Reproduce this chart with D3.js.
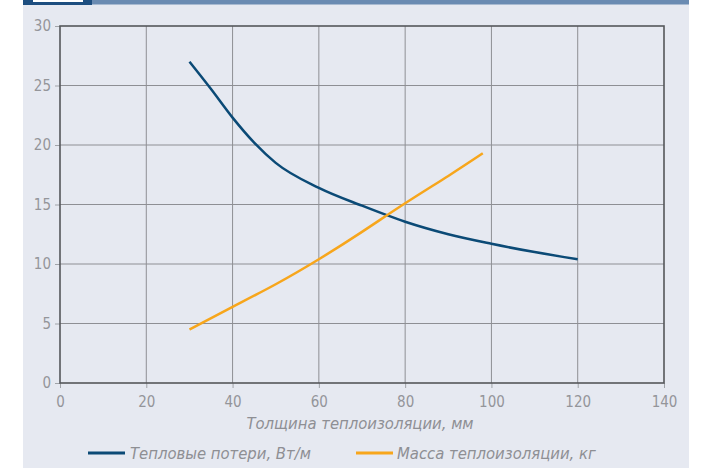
<!DOCTYPE html>
<html><head><meta charset="utf-8">
<script src="https://cdn.jsdelivr.net/npm/d3@7"></script>
<style>
body{margin:0;background:#fff;}
svg{display:block;}
text{font-family:"Liberation Sans Narrow","DejaVu Sans Condensed","Liberation Sans",sans-serif;}
</style></head>
<body><svg id="c" width="707" height="468"></svg>
<script>
const xTicks = [0,20,40,60,80,100,120,140];
const yTicks = [0,5,10,15,20,25,30];
const heatX = [30,35,40,45,50,60,70,80,90,100,110,120];
const heatY = [27,24.7,22.3,20.2,18.5,16.4,14.9,13.55,12.5,11.7,11.0,10.4];
const massX = [30,40,50,60,70,80,90,98];
const massY = [4.5,6.4,8.3,10.4,12.7,15.1,17.4,19.3];
const seriesNames = ["Тепловые потери, Вт/м","Масса теплоизоляции, кг"];
const xTitle = "Толщина теплоизоляции, мм";
const colors = ["#0b4a76","#f7a61c"];

const svg = d3.select("#c");
// panel
svg.append("rect").attr("x",23).attr("y",0).attr("width",666).attr("height",468).attr("fill","#e6e9f1");
svg.append("rect").attr("x",23).attr("y",0).attr("width",666).attr("height",4.5).attr("fill","#6a8bb2");
svg.append("rect").attr("x",23).attr("y",0).attr("width",69).attr("height",5).attr("fill","#1d4e80");
svg.append("rect").attr("x",33).attr("y",0).attr("width",50).attr("height",2).attr("fill","#ffffff");

const x = d3.scaleLinear().domain([0,140]).range([60,664]);
const y = d3.scaleLinear().domain([0,30]).range([383,26]);

// grid
svg.append("g").selectAll("line").data(xTicks.slice(1,-1)).join("line")
  .attr("x1",d=>x(d)).attr("x2",d=>x(d)).attr("y1",y(30)).attr("y2",y(0))
  .attr("stroke","#8e8f94").attr("stroke-width",1);
svg.append("g").selectAll("line").data(yTicks.slice(1,-1)).join("line")
  .attr("y1",d=>y(d)).attr("y2",d=>y(d)).attr("x1",x(0)).attr("x2",x(140))
  .attr("stroke","#8e8f94").attr("stroke-width",1);

// axes
const yAxis = svg.append("g").attr("transform",`translate(${x(0)},0)`)
  .call(d3.axisLeft(y).tickValues(yTicks).tickSize(5).tickPadding(4));
const xAxis = svg.append("g").attr("transform",`translate(0,${y(0)})`)
  .call(d3.axisBottom(x).tickValues(xTicks).tickSize(5).tickPadding(8));
[xAxis,yAxis].forEach(g=>{
  g.select(".domain").remove();
  g.selectAll(".tick line").attr("stroke","#a0a3a8");
  g.selectAll(".tick text").attr("fill","#94959a").attr("font-size",15)
    .style("font-family",'"Liberation Sans Narrow","DejaVu Sans Condensed",sans-serif');
});

// frame
svg.append("rect").attr("x",x(0)).attr("y",y(30)).attr("width",x(140)-x(0)).attr("height",y(0)-y(30))
  .attr("fill","none").attr("stroke","#55575b").attr("stroke-width",1.6);

// lines
const line = d3.line().x(d=>x(d[0])).y(d=>y(d[1])).curve(d3.curveMonotoneX);
const line2 = d3.line().x(d=>x(d[0])).y(d=>y(d[1])).curve(d3.curveNatural);
svg.append("path").datum(heatX.map((v,i)=>[v,heatY[i]])).attr("d",line)
  .attr("fill","none").attr("stroke",colors[0]).attr("stroke-width",2.5);
svg.append("path").datum(massX.map((v,i)=>[v,massY[i]])).attr("d",line2)
  .attr("fill","none").attr("stroke",colors[1]).attr("stroke-width",2.5);

// axis title
svg.append("text").attr("x",(x(0)+x(140))/2-2).attr("y",429).attr("text-anchor","middle")
  .attr("font-size",16.5).attr("font-style","italic").attr("fill","#8e8f94").text(xTitle);

// legend
const leg = [{x1:88,x2:125,tx:130},{x1:356,x2:393,tx:397}];
leg.forEach((l,i)=>{
  svg.append("line").attr("x1",l.x1).attr("x2",l.x2).attr("y1",453).attr("y2",453)
    .attr("stroke",colors[i]).attr("stroke-width",3);
  svg.append("text").attr("x",l.tx).attr("y",459).attr("font-size",16.5).attr("font-style","italic")
    .attr("fill","#8e8f94").text(seriesNames[i]);
});
</script></body></html>
